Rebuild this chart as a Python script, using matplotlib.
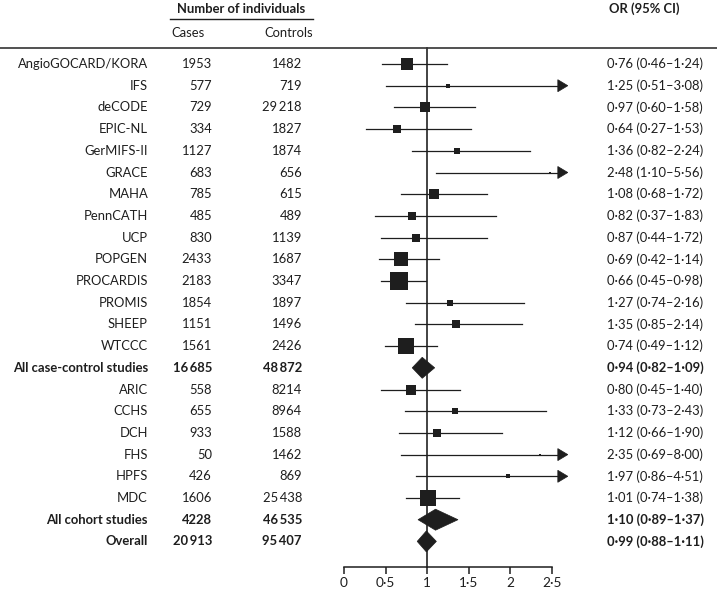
import matplotlib
matplotlib.use("Agg")
import matplotlib.pyplot as plt
from matplotlib.patches import Polygon
import math

plt.rcParams['font.family'] = ['Lato', 'DejaVu Sans']

# ---------------- data ----------------
labels = ["AngioGOCARD/KORA", "IFS", "deCODE", "EPIC-NL", "GerMIFS-II", "GRACE",
          "MAHA", "PennCATH", "UCP", "POPGEN", "PROCARDIS", "PROMIS", "SHEEP",
          "WTCCC", "All case-control studies", "ARIC", "CCHS", "DCH", "FHS",
          "HPFS", "MDC", "All cohort studies", "Overall"]
pooled = [False] * 14 + [True] + [False] * 6 + [True, True]
cases = [1953, 577, 729, 334, 1127, 683, 785, 485, 830, 2433, 2183, 1854, 1151,
         1561, 16685, 558, 655, 933, 50, 426, 1606, 4228, 20913]
controls = [1482, 719, 29218, 1827, 1874, 656, 615, 489, 1139, 1687, 3347, 1897,
            1496, 2426, 48872, 8214, 8964, 1588, 1462, 869, 25438, 46535, 95407]
odds_ratio = [0.76, 1.25, 0.97, 0.64, 1.36, 2.48, 1.08, 0.82, 0.87, 0.69, 0.66,
              1.27, 1.35, 0.74, 0.94, 0.80, 1.33, 1.12, 2.35, 1.97, 1.01, 1.10, 0.99]
ci_low = [0.46, 0.51, 0.60, 0.27, 0.82, 1.10, 0.68, 0.37, 0.44, 0.42, 0.45, 0.74,
          0.85, 0.49, 0.82, 0.45, 0.73, 0.66, 0.69, 0.86, 0.74, 0.89, 0.88]
ci_high = [1.24, 3.08, 1.58, 1.53, 2.24, 5.56, 1.72, 1.83, 1.72, 1.14, 0.98, 2.16,
           2.14, 1.12, 1.09, 1.40, 2.43, 1.90, 8.00, 4.51, 1.38, 1.37, 1.11]
# approximate study weights (%), read from square areas
weights = [8.0, 1.2, 5.7, 3.9, 2.6, 0.5, 5.5, 3.0, 3.0, 10.0, 19.0, 2.6, 3.4,
           13.0, None, 6.5, 2.3, 3.4, 0.25, 0.7, 13.0, None, None]
xticks = [0, 0.5, 1, 1.5, 2, 2.5]

# ---------------- layout ----------------
W, H = 717, 591
X0, SX = 344.0, 83.2      # pixel of OR=0, pixels per unit
Y0, SY = 64.0, 21.7       # pixel of first row, pixels per row
CLIP = 2.69               # arrow tip position
INK = '#1e1e1e'

fig = plt.figure(figsize=(W / 100, H / 100), dpi=100)
ax = fig.add_axes([0, 0, 1, 1])
ax.set_xlim(-X0 / SX, (W - X0) / SX)
ax.set_ylim((H - Y0) / SY, -Y0 / SY)
for s in ['left', 'right', 'top']:
    ax.spines[s].set_visible(False)
axis_row = (567 - Y0) / SY
ax.spines['bottom'].set_position(('data', axis_row))
ax.spines['bottom'].set_bounds(0, 2.5)
ax.spines['bottom'].set_linewidth(1.1)
ax.spines['bottom'].set_color(INK)
ax.set_yticks([])
ax.set_xticks(xticks)
ax.set_xticklabels([('%g' % t).replace('.', '\u00b7') for t in xticks])
ax.tick_params(axis='x', direction='out', length=5, width=1.1, color=INK,
               pad=2, labelsize=9.8, labelcolor=INK)
ax.patch.set_visible(False)

def fmt_n(n):
    s = str(n)
    if n >= 10000:
        s = s[:-3] + '\u2009' + s[-3:]
    return s

def fmt_v(v):
    return ('%.2f' % v).replace('.', '\u00b7')

ty = ax.get_yaxis_transform()   # x: axes fraction, y: data rows
fs = 9.4
for i, lab in enumerate(labels):
    fw = 'bold' if pooled[i] else 'normal'
    ax.text(148 / W, i, lab, transform=ty, ha='right', va='center', fontsize=fs,
            fontweight=fw, color=INK)
    ax.text(212 / W, i, fmt_n(cases[i]), transform=ty, ha='right', va='center',
            fontsize=fs, fontweight=fw, color=INK)
    ax.text(302 / W, i, fmt_n(controls[i]), transform=ty, ha='right', va='center',
            fontsize=fs, fontweight=fw, color=INK)
    ci_txt = '%s (%s\u2013%s)' % (fmt_v(odds_ratio[i]), fmt_v(ci_low[i]), fmt_v(ci_high[i]))
    ax.text(607 / W, i, ci_txt, transform=ty, ha='left', va='center', fontsize=fs,
            fontweight=fw, color=INK)

# headers
ta = ax.transAxes
ax.text(241.5 / W, 1 - 9 / H, 'Number of individuals', transform=ta, ha='center',
        va='center', fontsize=fs, fontweight='bold', color=INK)
ax.plot([170 / W, 313 / W], [1 - 19 / H, 1 - 19 / H], transform=ta, color=INK, lw=1.0)
ax.text(171 / W, 1 - 33 / H, 'Cases', transform=ta, ha='left', va='center',
        fontsize=fs, color=INK)
ax.text(313 / W, 1 - 33 / H, 'Controls', transform=ta, ha='right', va='center',
        fontsize=fs, color=INK)
ax.text(609 / W, 1 - 9 / H, 'OR (95% CI)', transform=ta, ha='left', va='center',
        fontsize=fs, fontweight='bold', color=INK)
ax.plot([0, 1], [1 - 48 / H, 1 - 48 / H], transform=ta, color='#333333', lw=1.2)

# reference line at OR = 1
top_row = (48 - Y0) / SY
ax.plot([1, 1], [top_row, axis_row], color='#222222', lw=1.2, zorder=1)

# marks
head_len = 10 / SX
head_half = 6 / SY
for i in range(len(labels)):
    if pooled[i]:
        h = 10.5 / SY
        d = Polygon([(ci_low[i], i), (odds_ratio[i], i - h), (ci_high[i], i),
                     (odds_ratio[i], i + h)], closed=True, facecolor=INK,
                    edgecolor=INK, lw=0.5, zorder=3)
        ax.add_patch(d)
        continue
    hi = ci_high[i]
    if hi > CLIP:
        ax.plot([ci_low[i], CLIP - head_len], [i, i], color=INK, lw=0.9, zorder=2)
        tri = Polygon([(CLIP - head_len, i - head_half), (CLIP, i),
                       (CLIP - head_len, i + head_half)], closed=True,
                      facecolor=INK, edgecolor=INK, lw=0.5, zorder=3)
        ax.add_patch(tri)
    else:
        ax.plot([ci_low[i], hi], [i, i], color=INK, lw=0.9, zorder=2)
    side_px = 4.17 * math.sqrt(weights[i])
    ax.plot([odds_ratio[i]], [i], marker='s', ms=side_px * 0.72, color=INK,
            mew=0, zorder=4)

fig.savefig('out.png', dpi=100)
